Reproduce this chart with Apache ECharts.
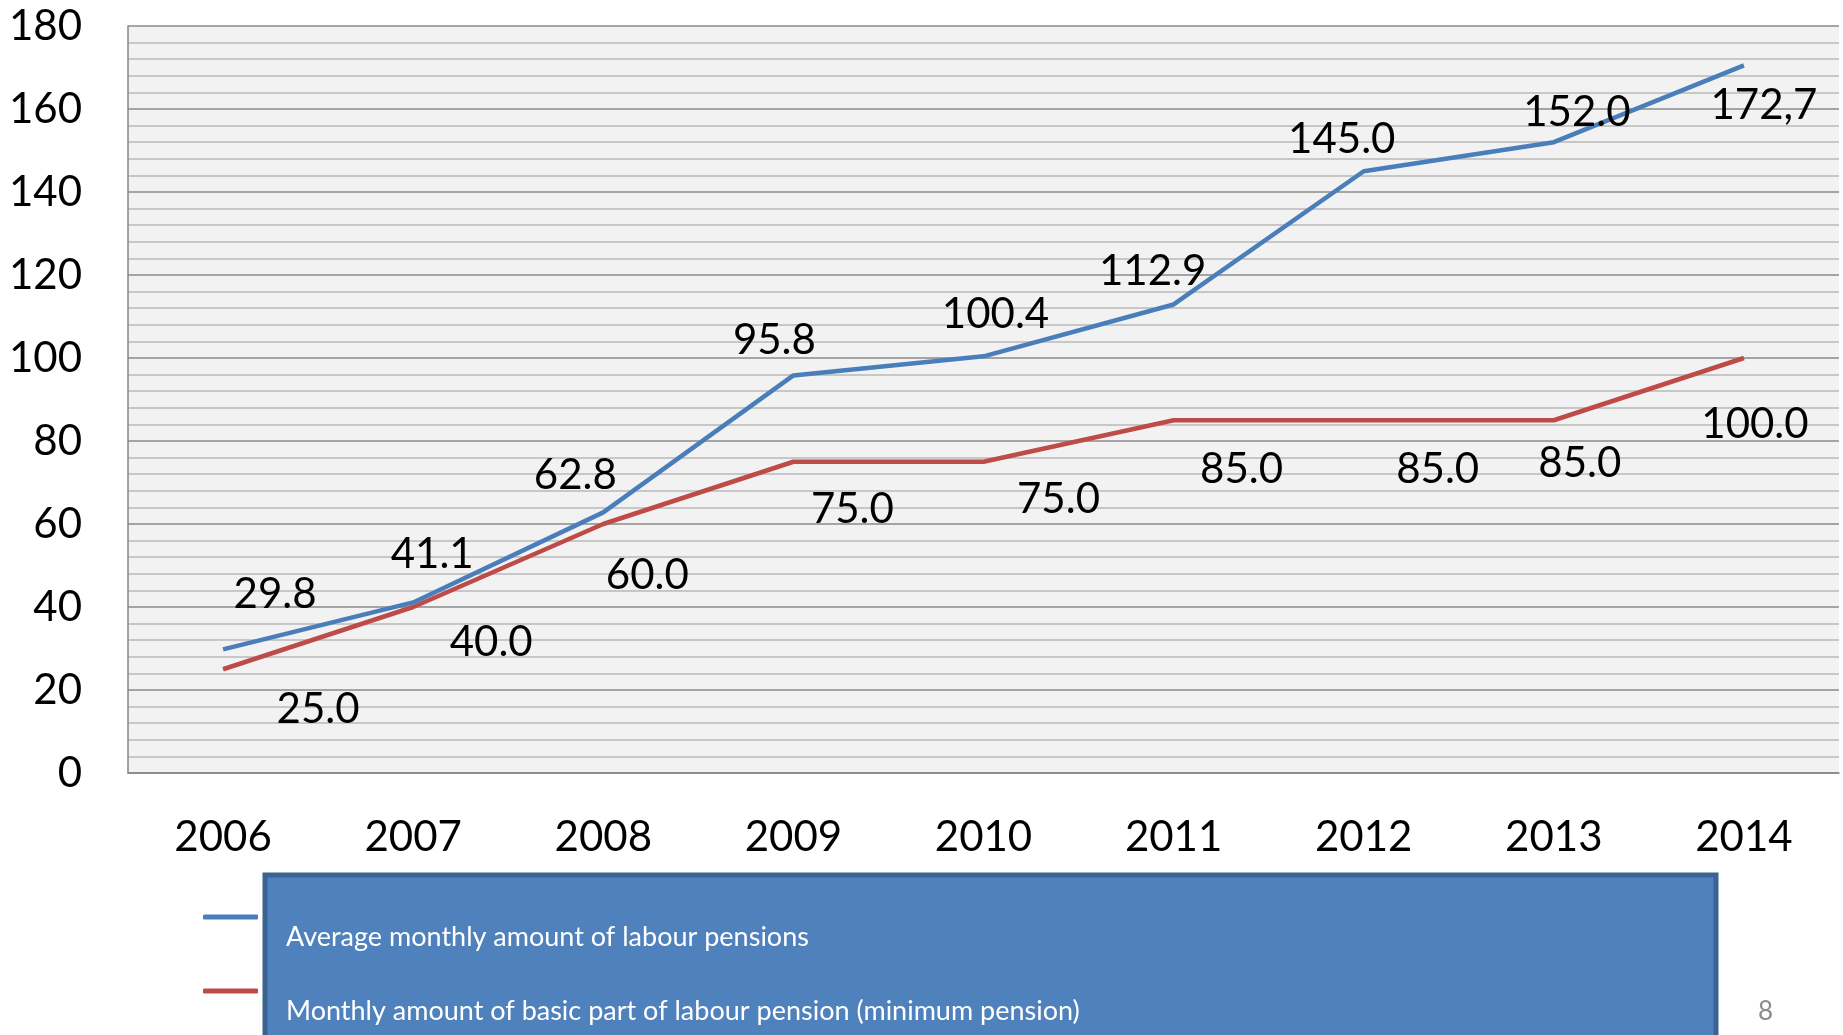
<!DOCTYPE html>
<html>
<head>
<meta charset="utf-8">
<script src="https://cdn.jsdelivr.net/npm/echarts@6/dist/echarts.min.js"></script>
<style>
  html, body { margin: 0; padding: 0; background: #ffffff; }
  #chart { width: 1843px; height: 1035px; }
</style>
</head>
<body>
<div id="chart"></div>
<script>
// ---- data ----
const years = ['2006', '2007', '2008', '2009', '2010', '2011', '2012', '2013', '2014'];
const averagePension = [29.8, 41.1, 62.8, 95.8, 100.4, 112.9, 145.0, 152.0, 170.5];
const averageLabels = ['29.8', '41.1', '62.8', '95.8', '100.4', '112.9', '145.0', '152.0', '172,7'];
const minimumPension = [25.0, 40.0, 60.0, 75.0, 75.0, 85.0, 85.0, 85.0, 100.0];
const minimumLabels = ['25.0', '40.0', '60.0', '75.0', '75.0', '85.0', '85.0', '85.0', '100.0'];
const seriesNames = ['Average monthly amount of labour pensions',
                     'Monthly amount of basic part of labour pension (minimum pension)'];
const yTicks = { min: 0, max: 180, interval: 20 };

// ---- label placement (manual offsets as in the source) ----
const averageOffsets = [[52,-55],[19,-48],[-28,-37],[-19,-35],[12,-42],[-21,-33],[-22,-32],[23,-30],[20,40]];
const minimumOffsets = [[95,40],[78,35],[44,51],[59,48],[75,38],[68,49],[74,49],[26,43],[11,66]];

const FONT = 'Lato';
const BLUE = '#4a7ebb';
const RED = '#be4b48';

function buildData(values, labels, offsets) {
  return values.map((v, i) => ({
    value: v,
    label: { formatter: labels[i], offset: offsets[i] }
  }));
}

const chart = echarts.init(document.getElementById('chart'), null, { renderer: 'canvas' });

const labelStyle = {
  show: true,
  position: 'inside',
  color: '#000000',
  fontFamily: FONT,
  fontSize: 42
};

chart.setOption({
  animation: false,
  backgroundColor: '#ffffff',
  textStyle: { fontFamily: FONT },
  grid: {
    left: 128, right: 4, top: 26, bottom: 262,
    show: true, backgroundColor: '#f2f2f2', borderWidth: 0
  },
  xAxis: {
    type: 'category',
    data: years,
    boundaryGap: true,
    axisLine: { show: true, lineStyle: { color: '#868686', width: 1.5 } },
    axisTick: { show: false },
    axisLabel: { color: '#000000', fontFamily: FONT, fontSize: 42, margin: 43 },
    splitLine: { show: false }
  },
  yAxis: {
    type: 'value',
    min: yTicks.min, max: yTicks.max, interval: yTicks.interval,
    axisLine: { show: true, lineStyle: { color: '#868686', width: 1.5 } },
    axisTick: { show: false },
    axisLabel: { color: '#000000', fontFamily: FONT, fontSize: 42, margin: 46 },
    splitLine: { show: true, lineStyle: { color: '#8a8a8a', width: 1.5 } },
    minorTick: { show: false, splitNumber: 5 },
    minorSplitLine: { show: true, lineStyle: { color: '#b9b9b9', width: 1.5 } }
  },
  legend: {
    orient: 'vertical',
    left: 203, top: 877,
    padding: 0,
    icon: 'roundRect',
    itemWidth: 55, itemHeight: 5,
    itemGap: -6,
    z: 10,
    selectedMode: false,
    data: seriesNames,
    formatter: name => '\n' + name,
    textStyle: {
      color: '#ffffff', fontFamily: FONT, fontSize: 27,
      lineHeight: 40,
      padding: [0, 0, 0, 23]
    }
  },
  graphic: [
    {
      type: 'rect', z: 1,
      shape: { x: 265, y: 875, width: 1451, height: 200 },
      style: { fill: '#4f81bd', stroke: '#3b6391', lineWidth: 5 }
    },
    {
      type: 'text', z: 1,
      left: 1758, top: 999,
      style: { text: '8', fill: '#8c8c8c', font: '26px Lato' }
    }
  ],
  series: [
    {
      name: seriesNames[0],
      type: 'line',
      data: buildData(averagePension, averageLabels, averageOffsets),
      symbol: 'circle', symbolSize: 0.1,
      lineStyle: { color: BLUE, width: 4.5 },
      itemStyle: { color: BLUE },
      label: labelStyle,
      z: 3
    },
    {
      name: seriesNames[1],
      type: 'line',
      data: buildData(minimumPension, minimumLabels, minimumOffsets),
      symbol: 'circle', symbolSize: 0.1,
      lineStyle: { color: RED, width: 4.5 },
      itemStyle: { color: RED },
      label: labelStyle,
      z: 2
    }
  ]
});
</script>
</body>
</html>
